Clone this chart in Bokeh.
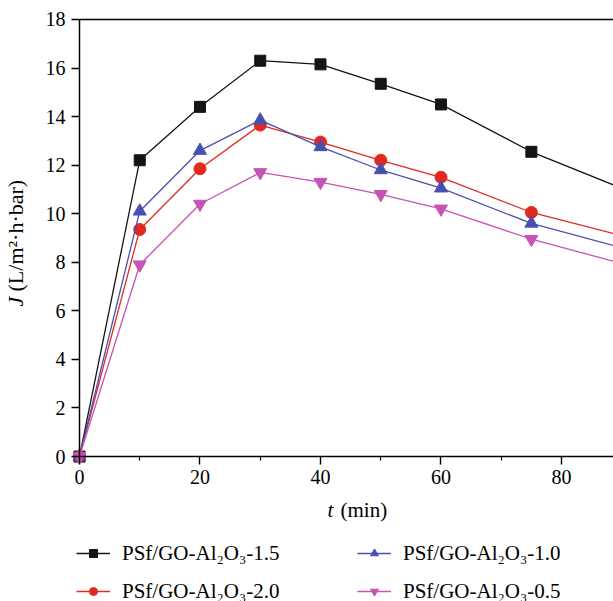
from bokeh.plotting import figure
from bokeh.models import Range1d, LinearAxis, Label, Legend, LegendItem, FixedTicker
from bokeh.embed import file_html
from bokeh.resources import INLINE
import math

t = [0, 10, 20, 30, 40, 50, 60, 75, 90]
j_15 = [0, 12.2, 14.4, 16.3, 16.15, 15.35, 14.5, 12.55, 11.05]
j_20 = [0, 9.35, 11.85, 13.65, 12.95, 12.2, 11.5, 10.05, 9.1]
j_10 = [0, 10.1, 12.6, 13.85, 12.75, 11.8, 11.05, 9.6, 8.6]
j_05 = [0, 7.9, 10.4, 11.7, 11.3, 10.8, 10.2, 8.95, 7.95]
labels = ["PSf/GO-Al\u2082O\u2083-1.5", "PSf/GO-Al\u2082O\u2083-2.0",
          "PSf/GO-Al\u2082O\u2083-1.0", "PSf/GO-Al\u2082O\u2083-0.5"]
x_ticks = [0, 20, 40, 60, 80]
x_minor = [10, 30, 50, 70]
y_ticks = [0, 2, 4, 6, 8, 10, 12, 14, 16, 18]
x_max_visible = 88.63
y_max = 18

FONT = "Liberation Serif, serif"
W, H = 613, 601

# frame spans the whole canvas; axes are pinned at x=0 / y=0 with fixed_location
p = figure(width=W, height=H, output_backend="svg", toolbar_location=None,
           x_range=Range1d(-13.11, x_max_visible), y_range=Range1d(-5.97, 18.78),
           min_border=0)
p.grid.visible = False
p.outline_line_color = None

for ax in (p.xaxis[0], p.yaxis[0]):
    ax.fixed_location = 0
    ax.axis_line_color = "black"
    ax.axis_line_width = 1.5
    ax.major_tick_line_color = "black"
    ax.major_tick_line_width = 1.4
    ax.major_tick_out = 8
    ax.major_tick_in = 0
    ax.major_label_text_font = FONT
    ax.major_label_text_font_size = "20px"
    ax.major_label_text_color = "black"

p.xaxis.bounds = (0, x_max_visible)
p.xaxis.ticker = FixedTicker(ticks=x_ticks, minor_ticks=x_minor)
p.xaxis.minor_tick_line_color = "black"
p.xaxis.minor_tick_line_width = 1.2
p.xaxis.minor_tick_out = 4
p.xaxis.minor_tick_in = 0
p.xaxis.major_label_standoff = 5
p.yaxis.bounds = (0, y_max)
p.yaxis.ticker = FixedTicker(ticks=y_ticks)
p.yaxis.minor_tick_line_color = None
p.yaxis.major_label_standoff = 6

# top frame line: an axis pinned at y=18 without ticks or labels
top = LinearAxis(fixed_location=y_max, bounds=(0, x_max_visible),
                 ticker=FixedTicker(ticks=[], minor_ticks=[]),
                 major_tick_line_color=None, minor_tick_line_color=None,
                 axis_line_color="black", axis_line_width=1.5)
p.add_layout(top, "above")

series = [
    (j_15, "#141414", "square", 11),
    (j_20, "#e3281f", "circle", 12),
    (j_10, "#4650b0", "triangle", 13),
    (j_05, "#c653b5", "inverted_triangle", 13),
]
items = {}
for (ys, col, mk, sz), lab in zip(series, labels):
    r1 = p.line(t, ys, line_color=col, line_width=1.3)
    r2 = p.scatter(t, ys, marker=mk, size=sz, fill_color=col, line_color=col)
    items[lab] = LegendItem(label=lab, renderers=[r1, r2])

legend = Legend(items=[items[labels[0]], items[labels[2]], items[labels[1]], items[labels[3]]],
                orientation="horizontal", ncols=2,
                location=(76, -5), border_line_color=None, background_fill_alpha=0,
                padding=0, margin=0, spacing=8, glyph_width=34, glyph_height=20,
                label_height=30, label_width=227, label_standoff=12,
                label_text_font=FONT, label_text_font_size="21px", label_text_color="black")
p.add_layout(legend, "center")

# axis titles (mixed italic / upright), screen units from the canvas' bottom-left
p.add_layout(Label(x=327, y=H - 509, x_units="screen", y_units="screen",
                   text="t", text_font=FONT, text_font_style="italic",
                   text_font_size="21px", text_color="black", text_baseline="alphabetic"))
p.add_layout(Label(x=340, y=H - 509, x_units="screen", y_units="screen",
                   text="(min)", text_font=FONT, text_baseline="alphabetic",
                   text_font_size="21px", text_color="black"))
p.add_layout(Label(x=15, y=H - 306, x_units="screen", y_units="screen",
                   text="J", text_font=FONT, text_font_style="italic", angle=math.pi / 2,
                   text_font_size="22px", text_color="black", text_baseline="middle"))
p.add_layout(Label(x=15, y=H - 291, x_units="screen", y_units="screen",
                   text="(L/m\u00b2\u00b7h\u00b7bar)", text_font=FONT, angle=math.pi / 2,
                   text_font_size="22px", text_color="black", text_baseline="middle"))

open("out.html", "w").write(file_html(p, INLINE))
